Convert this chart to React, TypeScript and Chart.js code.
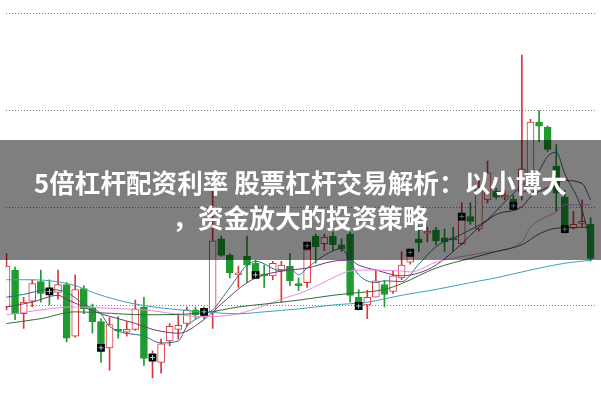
import React, { useEffect, useRef } from "react";
import { Chart, registerables } from "chart.js";

Chart.register(...registerables);

// Daily candles (price units)
const opens = [9.8, 13.6, 9.1, 10.4, 12.4, 11.6, 11.3, 12.1, 6.8, 11.7, 9.8, 8.3, 5.6, 7.5, 7.2, 7.5, 9.8, 4.6, 4.1, 6.3, 7.5, 8.1, 9.5, 9.4, 9.3, 16.8, 15.1, 13.1, 15.0, 14.3, 13.2, 13.0, 13.6, 14.0, 12.2, 12.3, 17.1, 16.3, 17.1, 16.2, 17.3, 10.8, 10.0, 10.8, 12.1, 11.4, 12.8, 14.4, 16.8, 17.4, 17.7, 16.9, 16.9, 16.3, 19.1, 17.8, 20.8, 21.7, 21.1, 20.9, 21.6, 21.6, 28.8, 28.3, 24.3, 21.1, 17.9, 18.4, 18.3];
const highs = [15.3, 13.9, 10.8, 12.6, 13.6, 12.6, 13.6, 12.3, 13.1, 12.0, 10.1, 8.6, 8.7, 8.8, 8.3, 10.5, 10.8, 5.3, 6.5, 8.1, 9.1, 9.8, 9.8, 9.8, 22.0, 17.1, 15.3, 14.0, 17.1, 14.6, 14.1, 14.5, 14.5, 15.3, 12.8, 16.3, 17.3, 17.3, 17.5, 16.8, 17.5, 11.6, 11.5, 13.6, 12.5, 13.5, 15.5, 15.4, 18.1, 18.0, 18.0, 17.8, 18.0, 20.5, 20.5, 22.8, 24.8, 22.0, 21.8, 21.3, 35.7, 29.1, 30.0, 28.4, 26.5, 21.8, 19.6, 20.8, 19.0];
const lows = [9.5, 8.5, 7.6, 9.8, 10.3, 10.0, 10.6, 6.2, 6.7, 9.1, 7.1, 4.1, 3.3, 6.6, 6.8, 7.4, 3.8, 2.5, 3.0, 5.8, 6.5, 7.8, 8.6, 8.6, 7.6, 15.0, 12.8, 11.8, 12.3, 12.8, 11.8, 12.6, 10.3, 12.0, 11.5, 11.8, 14.3, 15.6, 15.6, 15.5, 10.3, 9.5, 8.6, 10.8, 9.8, 11.2, 12.6, 14.2, 15.5, 16.5, 16.2, 15.5, 15.5, 16.2, 18.3, 17.6, 20.5, 20.9, 20.8, 19.8, 20.8, 21.6, 26.8, 25.8, 19.6, 17.4, 17.8, 18.1, 14.5];
const closes = [14.0, 9.1, 10.3, 12.2, 11.2, 11.2, 12.1, 6.6, 11.6, 9.6, 8.3, 5.6, 8.0, 7.3, 7.5, 9.6, 4.5, 5.0, 6.0, 7.8, 7.9, 9.5, 9.0, 9.0, 16.6, 15.1, 13.3, 13.3, 14.1, 13.1, 13.0, 14.3, 14.1, 12.5, 12.0, 15.7, 16.0, 17.0, 16.2, 15.8, 11.0, 10.2, 10.8, 12.5, 11.1, 13.0, 14.1, 15.0, 16.4, 17.6, 16.6, 16.5, 16.7, 18.8, 18.6, 22.1, 23.6, 21.1, 21.3, 20.5, 24.0, 28.8, 28.4, 26.0, 21.5, 17.6, 18.3, 18.6, 14.8];

// Weekly markers
const markerIdx = [5, 11, 17, 23, 29, 35, 41, 47, 53, 59, 65];
const markerVals = [11.4, 5.6, 4.6, 9.3, 13.1, 16.1, 9.9, 15.4, 19.1, 20.2, 17.8];

// Moving averages, read at selected candle indices
const ma5Idx = [0, 2, 5, 7, 9, 11, 12, 16, 18, 20, 21, 23, 24, 26, 28, 29, 32, 33, 34, 35, 37, 39, 40, 41, 43, 44, 46, 48, 50, 53, 56, 58, 60, 62, 63, 64, 65, 67, 68];
const ma5Vals = [10.8, 11.1, 11.6, 11.3, 10.1, 9.1, 7.8, 6.8, 6.1, 6.3, 7.8, 9.0, 9.5, 11.8, 14.1, 14.5, 13.5, 13.8, 13.1, 13.8, 15.1, 15.8, 14.5, 13.1, 12.3, 12.5, 12.4, 14.2, 16.0, 17.3, 18.8, 20.6, 22.3, 23.8, 25.3, 25.7, 23.5, 19.8, 16.2];

const ma10Idx = [0, 3, 6, 7, 9, 11, 13, 15, 17, 18, 20, 23, 25, 28, 30, 33, 35, 38, 40, 41, 43, 46, 48, 50, 53, 55, 57, 60, 61, 63, 65, 67, 68];
const ma10Vals = [9.8, 10.3, 11.0, 10.6, 9.8, 9.1, 8.6, 8.1, 7.5, 7.3, 7.1, 8.5, 10.1, 12.3, 13.1, 13.6, 13.8, 14.5, 14.6, 14.1, 13.6, 13.0, 13.3, 14.1, 16.3, 18.0, 19.3, 20.1, 21.1, 22.1, 22.8, 22.5, 20.8];

const ma20Idx = [0, 8, 11, 16, 23, 27, 32, 35, 38, 40, 42, 46, 47, 50, 55, 60, 61, 64, 65, 68];
const ma20Vals = [9.0, 9.8, 9.7, 9.5, 8.8, 9.1, 10.6, 11.5, 12.8, 13.5, 13.6, 13.5, 13.4, 14.4, 15.3, 16.5, 18.0, 19.6, 20.3, 20.3];

const ma30Idx = [0, 4, 8, 11, 16, 23, 27, 30, 34, 38, 40, 44, 46, 50, 54, 57, 60, 62, 64, 68];
const ma30Vals = [8.1, 8.6, 9.3, 9.2, 9.0, 9.2, 9.8, 10.1, 10.5, 11.0, 11.2, 11.6, 12.2, 13.8, 14.8, 15.5, 16.2, 17.3, 17.9, 18.0];

const ma60Idx = [0, 2, 5, 8, 10, 13, 15, 18, 23, 27, 30, 34, 38, 42, 46, 50, 54, 57, 61, 65, 68];
const ma60Vals = [12.6, 12.6, 12.5, 12.0, 11.3, 10.5, 10.1, 9.7, 9.3, 9.1, 9.3, 9.6, 10.0, 10.3, 11.0, 11.6, 12.3, 12.8, 13.6, 14.3, 14.6];

const gridTicks = [10, 20, 30, 40];

const UP = "#d9363d";
const DOWN = "#1f9b30";

const pts = (idx: number[], vals: number[]) => idx.map((x, k) => ({ x, y: vals[k] }));

export default function App() {
  const ref = useRef<HTMLCanvasElement | null>(null);

  useEffect(() => {
    if (!ref.current) return;
    const isUp = closes.map((c, i) => c >= opens[i]);
    const maLine = (label: string, idx: number[], vals: number[], color: string) => ({
      type: "line" as const,
      label,
      data: pts(idx, vals),
      borderColor: color,
      backgroundColor: color,
      borderWidth: 1,
      pointRadius: 0,
      cubicInterpolationMode: "monotone" as const,
      order: 2,
    });
    const chart = new Chart(ref.current, {
      type: "bar",
      data: {
        datasets: [
          {
            type: "bar",
            label: "wick",
            data: lows.map((l, i) => ({ x: i, y: [l, highs[i]] })) as any,
            backgroundColor: isUp.map((u) => (u ? UP : DOWN)),
            borderWidth: 0,
            barThickness: 1,
            grouped: false,
            order: 6,
          },
          {
            type: "bar",
            label: "body",
            data: opens.map((o, i) => ({ x: i, y: [o, closes[i]] })) as any,
            backgroundColor: isUp.map((u) => (u ? "#ffffff" : DOWN)),
            borderColor: isUp.map((u) => (u ? UP : DOWN)),
            borderWidth: 1,
            borderSkipped: false,
            barThickness: 7,
            grouped: false,
            order: 5,
          },
          maLine("MA60", ma60Idx, ma60Vals, "#3fa3b3"),
          maLine("MA30", ma30Idx, ma30Vals, "#2f6f36"),
          maLine("MA20", ma20Idx, ma20Vals, "#e68ae6"),
          maLine("MA10", ma10Idx, ma10Vals, "#7a3570"),
          maLine("MA5", ma5Idx, ma5Vals, "#2d6f7e"),
          {
            type: "scatter",
            label: "mark",
            data: pts(markerIdx, markerVals),
            pointStyle: "rect",
            pointRadius: 5.5,
            backgroundColor: "#000000",
            borderWidth: 0,
            order: 1,
          } as any,
          {
            type: "scatter",
            label: "mark2",
            data: pts(markerIdx, markerVals),
            pointStyle: "cross",
            pointRadius: 2.5,
            borderColor: "#7fd6e6",
            borderWidth: 1,
            order: 0,
          } as any,
        ],
      },
      options: {
        animation: false,
        responsive: false,
        maintainAspectRatio: false,
        layout: { padding: 0 },
        plugins: {
          legend: { display: false },
          tooltip: { enabled: false },
          title: { display: false },
        },
        scales: {
          x: {
            type: "linear",
            min: -0.114,
            max: 68.57,
            display: false,
            offset: false,
          },
          y: {
            type: "linear",
            min: 0.8,
            max: 40.8,
            display: true,
            ticks: { display: false },
            border: { display: false, dash: [1, 2] },
            grid: { color: "#7d7d7d", drawTicks: false, lineWidth: 1 },
            afterBuildTicks: (s: any) => {
              s.ticks = gridTicks.map((v) => ({ value: v }));
            },
            afterFit: (s: any) => {
              s.width = 0;
            },
          },
        },
      } as any,
    });
    return () => chart.destroy();
  }, []);

  return (
    <div style={{ position: "absolute", left: 0, top: 0, width: 601, height: 400, background: "#ffffff", overflow: "hidden" }}>
      <canvas ref={ref} width={601} height={400} style={{ width: 601, height: 400, display: "block" }} />
      <div
        style={{
          position: "absolute",
          left: 0,
          top: 140,
          width: 601,
          height: 120,
          background: "rgba(0,0,0,0.5)",
          color: "#ffffff",
          fontFamily: '"Noto Sans CJK SC", "Noto Sans", sans-serif',
          fontWeight: 700,
          fontSize: "25.6px",
          lineHeight: "35px",
          textAlign: "center",
          paddingTop: 24,
          boxSizing: "border-box",
          whiteSpace: "nowrap",
        }}
      >
        <div>5倍杠杆配资利率 股票杠杆交易解析：以小博大</div>
        <div>，资金放大的投资策略</div>
      </div>
    </div>
  );
}
